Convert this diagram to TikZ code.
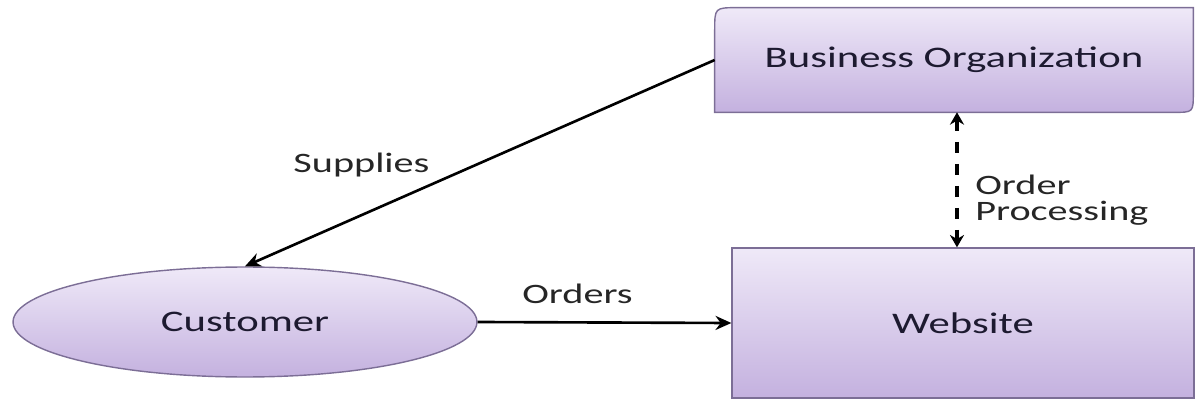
\documentclass[tikz,border=0pt]{standalone}
\usepackage{fontspec}
\setmainfont{Carlito}[FakeStretch=1.43]
\usetikzlibrary{shapes.geometric,arrows.meta,backgrounds}
\definecolor{boxtop}{HTML}{EFE9F8}
\definecolor{boxbottom}{HTML}{C4B1DF}
\definecolor{boxline}{HTML}{7C6E96}
\definecolor{boxtext}{HTML}{1D1A30}
\definecolor{labeltext}{HTML}{262626}
\tikzset{boxfill/.style={draw=boxline,line width=0.8pt,top color=boxtop,bottom color=boxbottom}}

\begin{document}
\begin{tikzpicture}[x=0.02cm,y=-0.02cm]
        \useasboundingbox (0,0) rectangle (1198,402);
        \begin{scope}[every node/.style={text=boxtext,inner sep=0pt,font=\fontsize{17}{20}\selectfont}]
            \node (1) [rectangle,minimum width=9.56cm,minimum height=2.08cm] at (954,60) {Business Organization};
            \node (2) [ellipse,boxfill,minimum width=9.28cm,minimum height=2.2cm] at (245,322) {Customer};
            \node (3) [rectangle,boxfill,minimum width=9.24cm,minimum height=3cm] at (963,323) {Website};
        \end{scope}
        \begin{scope}[on background layer]
            \path[boxfill] ([yshift=-13pt]1.north west) .. controls (1.north west) .. ([xshift=13pt]1.north west)
                -- (1.north east) -- ([yshift=11pt]1.south east) .. controls (1.south east) .. ([xshift=-11pt]1.south east)
                -- (1.south west) -- cycle;
        \end{scope}
        \begin{scope}[every node/.style={text=labeltext,inner sep=0pt,font=\fontsize{16}{15}\selectfont}]
            \node (11) [anchor=base] at (361.5,173) {Supplies};
            \node (12) [anchor=base] at (577.5,303) {Orders};
            \node (13) [anchor=west,align=left] at (975,200) {Order\\Processing};
        \end{scope}
        \begin{scope}[every edge/.style={draw,line width=1.5pt,-{Stealth[length=9pt,width=8pt]}}]
            \path
                (1.west) edge (2.north)
                (2.east) edge (3.west);
        \end{scope}
        \begin{scope}[every edge/.style={draw,line width=2.6pt,dash pattern=on 6.5pt off 6pt,{Stealth[length=7pt,width=8pt]}-{Stealth[length=7pt,width=8pt]}}]
            \path
                ([xshift=1.7pt]1.south) edge ([xshift=1.7pt]1.south |- 3.north);
        \end{scope}
    \end{tikzpicture}
\end{document}
